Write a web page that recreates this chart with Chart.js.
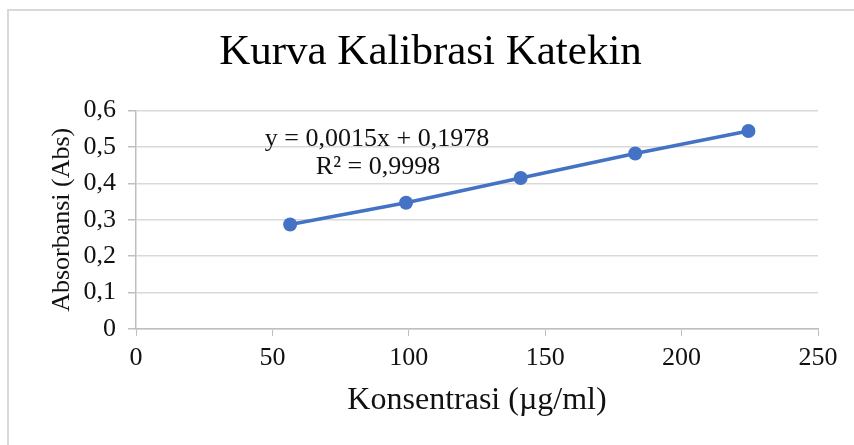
<!DOCTYPE html>
<html>
<head>
<meta charset="utf-8">
<script src="https://cdn.jsdelivr.net/npm/chart.js@4.4.1/dist/chart.umd.min.js"></script>
<style>
  html, body { margin: 0; padding: 0; background: #fff; overflow: hidden; }
  #wrap { position: relative; width: 854px; height: 445px; }
  #frame { position: absolute; left: 7px; top: 9px; width: 900px; height: 500px; border: 2px solid #d9d9d9; box-sizing: border-box; }
  #chart { position: absolute; left: 0; top: 0; }
</style>
</head>
<body>
<div id="wrap">
  <div id="frame"></div>
  <canvas id="chart" width="854" height="445"></canvas>
</div>
<script>
// Data
const konsentrasi = [56.5, 99, 141, 183, 224.5];
const absorbansi = [0.287, 0.347, 0.415, 0.482, 0.544];
const equationLines = ["y = 0,0015x + 0,1978", "R² = 0,9998"];

const blue = "#4472c4";
const serif = "'Liberation Serif', 'Times New Roman', serif";

// comma decimal, like the original
function fmt(v) {
  if (v === 0) return "0";
  return v.toFixed(1).replace(".", ",");
}

// draws the trendline equation label
const equationLabel = {
  id: "equationLabel",
  afterDatasetsDraw(chart) {
    const { ctx, chartArea } = chart;
    ctx.save();
    ctx.font = "26px " + serif;
    ctx.fillStyle = "#111";
    ctx.textAlign = "center";
    ctx.textBaseline = "middle";
    ctx.fillText(equationLines[0], chartArea.left + 241, chartArea.top + 29);
    ctx.fillText(equationLines[1], chartArea.left + 242, chartArea.top + 57);
    ctx.restore();
  },
};

const ctx = document.getElementById("chart").getContext("2d");

new Chart(ctx, {
  type: "scatter",
  data: {
    datasets: [
      {
        label: "Absorbansi",
        data: konsentrasi.map((x, i) => ({ x: x, y: absorbansi[i] })),
        showLine: true,
        borderColor: blue,
        backgroundColor: blue,
        borderWidth: 3.5,
        pointRadius: 7,
        pointHoverRadius: 7,
        pointBorderWidth: 0,
      },
    ],
  },
  options: {
    responsive: false,
    animation: false,
    layout: { padding: { left: 43, right: 36, top: 0, bottom: 21 } },
    plugins: {
      legend: { display: false },
      tooltip: { enabled: false },
      title: {
        display: true,
        text: "Kurva Kalibrasi Katekin",
        color: "#000",
        font: { family: serif, size: 43, weight: "normal" },
        padding: { top: 27, bottom: 32 },
      },
    },
    scales: {
      x: {
        type: "linear",
        min: 0,
        max: 250,
        afterFit(scale) {
          scale.height = 95;
          scale.paddingRight = 0;
        },
        ticks: {
          stepSize: 50,
          color: "#111",
          font: { family: serif, size: 26 },
          padding: 7,
        },
        grid: {
          drawOnChartArea: false,
          drawTicks: true,
          tickLength: 7,
          color: "#bfbfbf",
        },
        border: { color: "#bfbfbf", width: 1.5 },
        title: {
          display: true,
          text: "Konsentrasi (µg/ml)",
          color: "#111",
          font: { family: serif, size: 32 },
        },
      },
      y: {
        min: 0,
        max: 0.6,
        afterFit(scale) { scale.width = 93; },
        ticks: {
          stepSize: 0.1,
          color: "#111",
          font: { family: serif, size: 26 },
          padding: 12,
          callback: (v) => fmt(v),
        },
        grid: {
          color: "#d9d9d9",
          lineWidth: 1.5,
          tickLength: 8,
          tickColor: "#bfbfbf",
        },
        border: { color: "#bfbfbf", width: 1.5 },
        title: {
          display: true,
          text: "Absorbansi (Abs)",
          color: "#111",
          font: { family: serif, size: 26 },
        },
      },
    },
  },
  plugins: [equationLabel],
});
</script>
</body>
</html>
